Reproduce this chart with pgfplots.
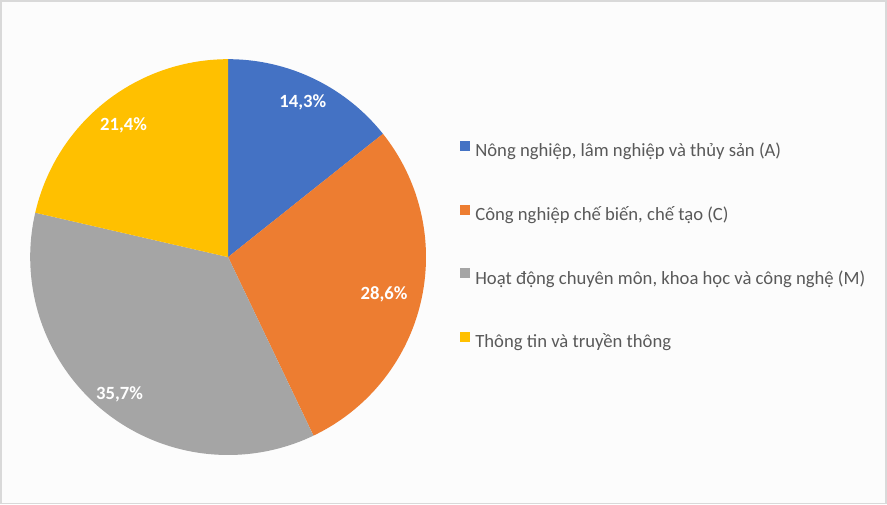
\documentclass[border=0pt]{standalone}
\usepackage{pgfplots}
\pgfplotsset{compat=1.18}
\usepgfplotslibrary{polar}
\usepackage{fontspec}
\setmainfont{Carlito}

\definecolor{cA}{HTML}{4472C4}
\definecolor{cC}{HTML}{ED7D31}
\definecolor{cM}{HTML}{A5A5A5}
\definecolor{cT}{HTML}{FFC000}
\definecolor{txt}{HTML}{595959}
\definecolor{frame}{HTML}{D9D9D9}

% shares in percent, clockwise from 12 o'clock
\def\sA{14.3}
\def\sC{28.6}
\def\sM{35.7}
\def\sT{21.4}
\pgfmathsetmacro\aA{90}
\pgfmathsetmacro\aC{\aA-3.6*\sA}
\pgfmathsetmacro\aM{\aC-3.6*\sC}
\pgfmathsetmacro\aT{\aM-3.6*\sM}
\pgfmathsetmacro\aE{\aT-3.6*\sT}

\tikzset{lbl/.style={text=white, font=\fontsize{14}{16}\selectfont\bfseries}}

\begin{document}
\begin{tikzpicture}[x=0.75pt,y=0.75pt]
\fill[gray!2] (0,0) rectangle (887,504);
\draw[frame, line width=1.2pt] (0.6,0.6) rectangle (886.4,503.4);
\begin{polaraxis}[
  at={(171pt,185.25pt)}, anchor=center,
  scale only axis, width=297pt, height=297pt,
  hide axis, ymin=0, ymax=1, clip=false,
  legend style={at={(axis description cs:1.0859,0.527)}, anchor=west,
    draw=none, fill=none, inner sep=0pt, outer sep=0pt, column sep=4pt,
    row sep=33pt, font=\fontsize{14}{16}\selectfont, text=txt,
    nodes={inner sep=0pt, text height=10pt, text depth=3pt}},
  legend cell align=left,
  legend image code/.code={\fill[#1] (0pt,0.75pt) rectangle (7.5pt,8.25pt);},
]
\addplot[fill=cA, draw=none, domain=\aC:\aA, samples=60] {1} -- (0,0) -- cycle;
\addlegendentry{Nông nghiệp, lâm nghiệp và thủy sản (A)}
\addplot[fill=cC, draw=none, domain=\aM:\aC, samples=80] {1} -- (0,0) -- cycle;
\addlegendentry{Công nghiệp chế biến, chế tạo (C)}
\addplot[fill=cM, draw=none, domain=\aT:\aM, samples=90] {1} -- (0,0) -- cycle;
\addlegendentry{Hoạt động chuyên môn, khoa học và công nghệ (M)}
\addplot[fill=cT, draw=none, domain=\aE:\aT, samples=60] {1} -- (0,0) -- cycle;
\addlegendentry{Thông tin và truyền thông}

\node[lbl] at (axis cs:64.3,0.87) {14,3\%};
\node[lbl] at (axis cs:-13.3,0.81) {28,6\%};
\node[lbl] at (axis cs:-128.3,0.885) {35,7\%};
\node[lbl] at (axis cs:128.4,0.85) {21,4\%};
\end{polaraxis}
\end{tikzpicture}
\end{document}
